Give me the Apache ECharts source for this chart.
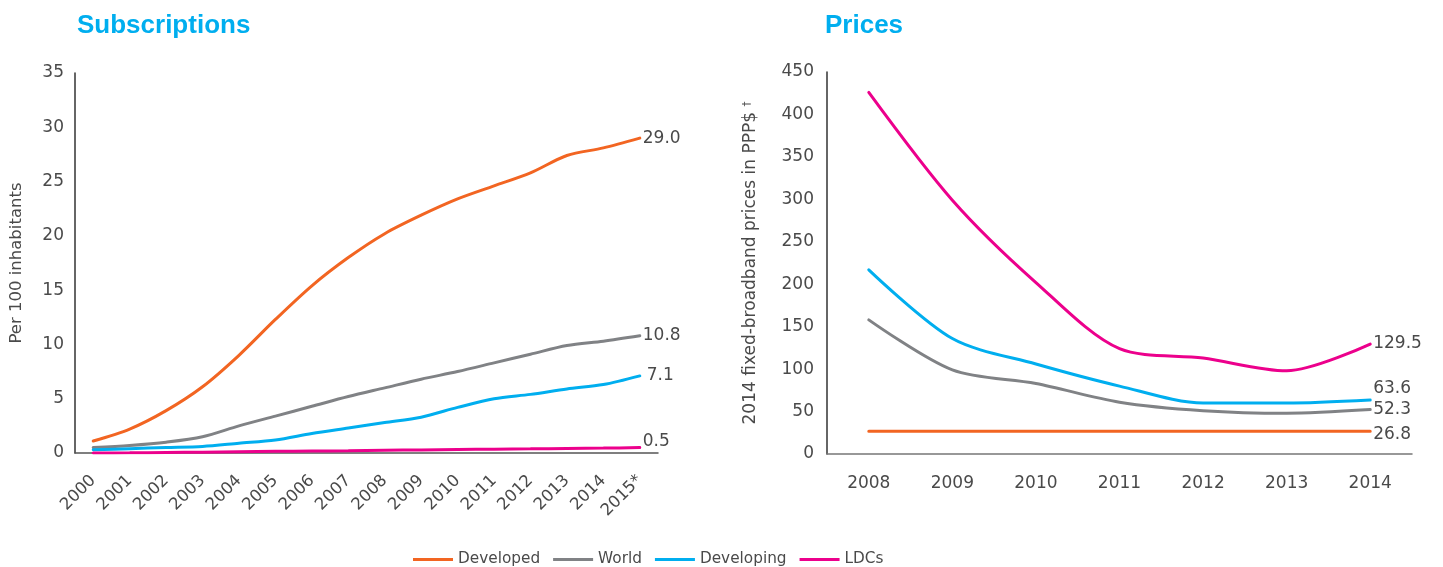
<!DOCTYPE html>
<html>
<head>
<meta charset="utf-8">
<script src="https://cdn.jsdelivr.net/npm/echarts@6/dist/echarts.min.js"></script>
<style>
html,body{margin:0;padding:0;background:#fff;}
#chart{width:1443px;height:567px;}
</style>
</head>
<body>
<div id="chart"></div>
<script>
// ---- Data ----
const subYears = ['2000','2001','2002','2003','2004','2005','2006','2007','2008','2009','2010','2011','2012','2013','2014','2015*'];
const subDeveloped = [1.1, 2.2, 3.9, 6.1, 9.0, 12.3, 15.4, 18.0, 20.2, 21.9, 23.4, 24.6, 25.8, 27.4, 28.1, 29.0];
const subWorld     = [0.5, 0.7, 1.0, 1.5, 2.5, 3.4, 4.3, 5.2, 6.0, 6.8, 7.5, 8.3, 9.1, 9.9, 10.3, 10.8];
const subDeveloping= [0.3, 0.4, 0.5, 0.6, 0.9, 1.2, 1.8, 2.3, 2.8, 3.3, 4.2, 5.0, 5.4, 5.9, 6.3, 7.1];
const subLDCs      = [0.0, 0.02, 0.05, 0.08, 0.12, 0.15, 0.18, 0.2, 0.25, 0.28, 0.32, 0.35, 0.38, 0.42, 0.45, 0.5];

const priceYears = ['2008','2009','2010','2011','2012','2013','2014'];
const priceDeveloped = [26.8, 26.8, 26.8, 26.8, 26.8, 26.8, 26.8];
const priceWorld     = [158, 99, 83, 61, 51, 48, 52.3];
const priceDeveloping= [217, 136, 106, 80, 60, 60, 63.6];
const priceLDCs      = [426, 299, 202, 124, 113, 98, 129.5];

const seriesNames = ['Developed','World','Developing','LDCs'];
const colors = ['#f26522','#808285','#00aeef','#ec008c'];

// ---- Chart ----
const chart = echarts.init(document.getElementById('chart'));
const FONT = 'DejaVu Sans';
const TXT = '#4a4a4a';

function mkSeries(name, data, color, xi, smooth, labelOffset) {
  return {
    name: name, type: 'line', data: data,
    xAxisIndex: xi, yAxisIndex: xi,
    smooth: smooth, showSymbol: false, symbol: 'none',
    lineStyle: { width: 3, color: color, cap: 'round' },
    itemStyle: { color: color },
    emphasis: { disabled: true },
    endLabel: {
      show: true,
      formatter: p => Number(p.value).toFixed(1),
      color: TXT, fontFamily: FONT, fontSize: 17,
      distance: 3,
      offset: labelOffset || [0, 0]
    }
  };
}

const option = {
  animation: false,
  backgroundColor: '#fff',
  title: [
    { text: 'Subscriptions', left: 72, top: 8,
      textStyle: { color: '#00aeef', fontSize: 26, fontWeight: 'bold', fontFamily: 'Liberation Sans' } },
    { text: 'Prices', left: 820, top: 8,
      textStyle: { color: '#00aeef', fontSize: 26, fontWeight: 'bold', fontFamily: 'Liberation Sans' } }
  ],
  legend: {
    data: seriesNames,
    left: 408, top: 547,
    icon: 'rect', itemWidth: 40, itemHeight: 3, itemGap: 13,
    textStyle: { color: TXT, fontFamily: FONT, fontSize: 15.3 },
    selectedMode: false
  },
  grid: [
    { left: 75, right: 785, top: 73, bottom: 114 },
    { left: 827, right: 31, top: 72, bottom: 113 }
  ],
  xAxis: [
    { type: 'category', gridIndex: 0, data: subYears, boundaryGap: true,
      axisLine: { lineStyle: { color: '#555', width: 1.5 } },
      axisTick: { show: false },
      axisLabel: { rotate: 45, margin: 25, color: TXT, fontFamily: FONT, fontSize: 16.5, interval: 0 } },
    { type: 'category', gridIndex: 1, data: priceYears, boundaryGap: true,
      axisLine: { lineStyle: { color: '#777', width: 1.5 } },
      axisTick: { show: false },
      axisLabel: { margin: 21, color: TXT, fontFamily: FONT, fontSize: 17, interval: 0 } }
  ],
  yAxis: [
    { type: 'value', gridIndex: 0, min: 0, max: 35, interval: 5,
      name: 'Per 100 inhabitants', nameLocation: 'middle', nameGap: 50,
      nameTextStyle: { color: TXT, fontFamily: FONT, fontSize: 16.5 },
      axisLine: { show: true, lineStyle: { color: '#333', width: 1.5 } },
      axisTick: { show: false }, splitLine: { show: false },
      axisLabel: { margin: 11, color: TXT, fontFamily: FONT, fontSize: 17 } },
    { type: 'value', gridIndex: 1, min: 0, max: 450, interval: 50,
      name: '{a|2014 fixed-broadband prices in PPP$} {s|†}', nameLocation: 'middle', nameGap: 67,
      nameTextStyle: { color: TXT, fontFamily: FONT, fontSize: 17,
        rich: { a: { color: TXT, fontFamily: FONT, fontSize: 17 },
                s: { color: TXT, fontFamily: FONT, fontSize: 10, verticalAlign: 'top', padding: [0,0,8,0] } } },
      axisLine: { show: true, lineStyle: { color: '#333', width: 1.5 } },
      axisTick: { show: false }, splitLine: { show: false },
      axisLabel: { margin: 13, color: TXT, fontFamily: FONT, fontSize: 17 } }
  ],
  series: [
    mkSeries('Developed', subDeveloped, colors[0], 0, 0.3),
    mkSeries('World', subWorld, colors[1], 0, 0.3),
    mkSeries('Developing', subDeveloping, colors[2], 0, 0.3, [4, 0]),
    mkSeries('LDCs', subLDCs, colors[3], 0, 0.3, [0, -6]),
    mkSeries('Developed', priceDeveloped, colors[0], 1, 0.3, [0, 3]),
    mkSeries('World', priceWorld, colors[1], 1, 0.3, [0, 0]),
    mkSeries('Developing', priceDeveloping, colors[2], 1, 0.3, [0, -11]),
    mkSeries('LDCs', priceLDCs, colors[3], 1, 0.3)
  ]
};
chart.setOption(option);
</script>
</body>
</html>
